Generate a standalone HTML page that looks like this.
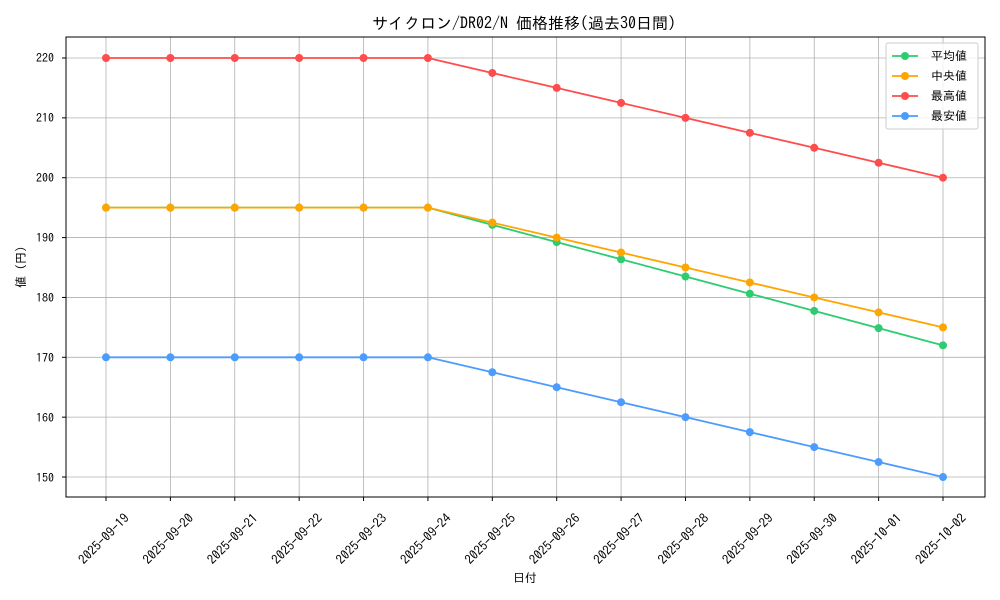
<!DOCTYPE html>
<html><head><meta charset="utf-8"><style>
body{margin:0;background:#fff;}
svg{display:block;font-family:"IPAGothic","Liberation Sans","Noto Sans CJK JP",sans-serif;}
</style></head><body>
<svg id="s" width="1000" height="600" xmlns="http://www.w3.org/2000/svg">
<rect x="0" y="0" width="1000" height="600" fill="#fff"/>
<g id="grid"></g>
<rect x="66" y="37" width="919" height="460" fill="none" stroke="#000" stroke-width="1"/>
<g id="series"></g>
<g font-size="12" fill="#000" text-anchor="end">
<text x="54" y="62">220</text><text x="54" y="122">210</text><text x="54" y="182">200</text>
<text x="54" y="242">190</text><text x="54" y="302">180</text><text x="54" y="362">170</text>
<text x="54" y="422">160</text><text x="54" y="482">150</text>
</g>
<g id="xl" font-size="13" fill="#000" text-anchor="middle"></g>
<text x="524" y="29" font-size="16" text-anchor="middle">サイクロン/DR02/N 価格推移(過去30日間)</text>
<text x="525" y="582" font-size="12" text-anchor="middle">日付</text>
<text transform="translate(25,267) rotate(-90)" font-size="12" text-anchor="middle">値 (円)</text>
<rect x="886" y="43" width="92" height="86" fill="#fff" fill-opacity="0.8" stroke="#ccc" rx="2"/>
<g font-size="12">
<line x1="892" y1="56" x2="918" y2="56" stroke="#2ecc71" stroke-width="1.8"/><circle cx="905" cy="56" r="4" fill="#2ecc71"/><text x="931" y="60">平均値</text>
<line x1="892" y1="76" x2="918" y2="76" stroke="#ffa500" stroke-width="1.8"/><circle cx="905" cy="76" r="4" fill="#ffa500"/><text x="931" y="80">中央値</text>
<line x1="892" y1="96" x2="918" y2="96" stroke="#ff4c4c" stroke-width="1.8"/><circle cx="905" cy="96" r="4" fill="#ff4c4c"/><text x="931" y="100">最高値</text>
<line x1="892" y1="116" x2="918" y2="116" stroke="#4c9cff" stroke-width="1.8"/><circle cx="905" cy="116" r="4" fill="#4c9cff"/><text x="931" y="120">最安値</text>
</g>
</svg>
<script>
var NS="http://www.w3.org/2000/svg";
function el(p,t,a){var e=document.createElementNS(NS,t);for(var k in a)e.setAttribute(k,a[k]);p.appendChild(e);return e;}
var g=document.getElementById('grid'),sr=document.getElementById('series'),xl=document.getElementById('xl');
function X(i){return 106+i*64.385;}
function Y(v){return 58+(220-v)*5.986;}
var dates=["2025-09-19","2025-09-20","2025-09-21","2025-09-22","2025-09-23","2025-09-24","2025-09-25","2025-09-26","2025-09-27","2025-09-28","2025-09-29","2025-09-30","2025-10-01","2025-10-02"];
for(var i=0;i<14;i++){el(g,'line',{x1:X(i),x2:X(i),y1:37,y2:497,stroke:'#b0b0b0','stroke-width':0.8});
el(g,'line',{x1:X(i),x2:X(i),y1:497,y2:501,stroke:'#000'});
var t=el(xl,'text',{transform:'translate('+(X(i)+1)+',542) rotate(-45)'});t.textContent=dates[i];}
for(var v=150;v<=220;v+=10){el(g,'line',{x1:66,x2:985,y1:Y(v),y2:Y(v),stroke:'#b0b0b0','stroke-width':0.8});el(g,'line',{x1:62,x2:66,y1:Y(v),y2:Y(v),stroke:'#000'});}
function ser(a,step,c){var pts=[];for(var i=0;i<14;i++){var v=i<6?a:a-(i-5)*step;pts.push(X(i)+','+Y(v));}
el(sr,'polyline',{points:pts.join(' '),fill:'none',stroke:c,'stroke-width':1.8});
pts.forEach(function(p){var q=p.split(',');el(sr,'circle',{cx:q[0],cy:q[1],r:4,fill:c});});}
ser(195,2.875,'#2ecc71');ser(195,2.5,'#ffa500');ser(220,2.5,'#ff4c4c');ser(170,2.5,'#4c9cff');
</script>
</body></html>
